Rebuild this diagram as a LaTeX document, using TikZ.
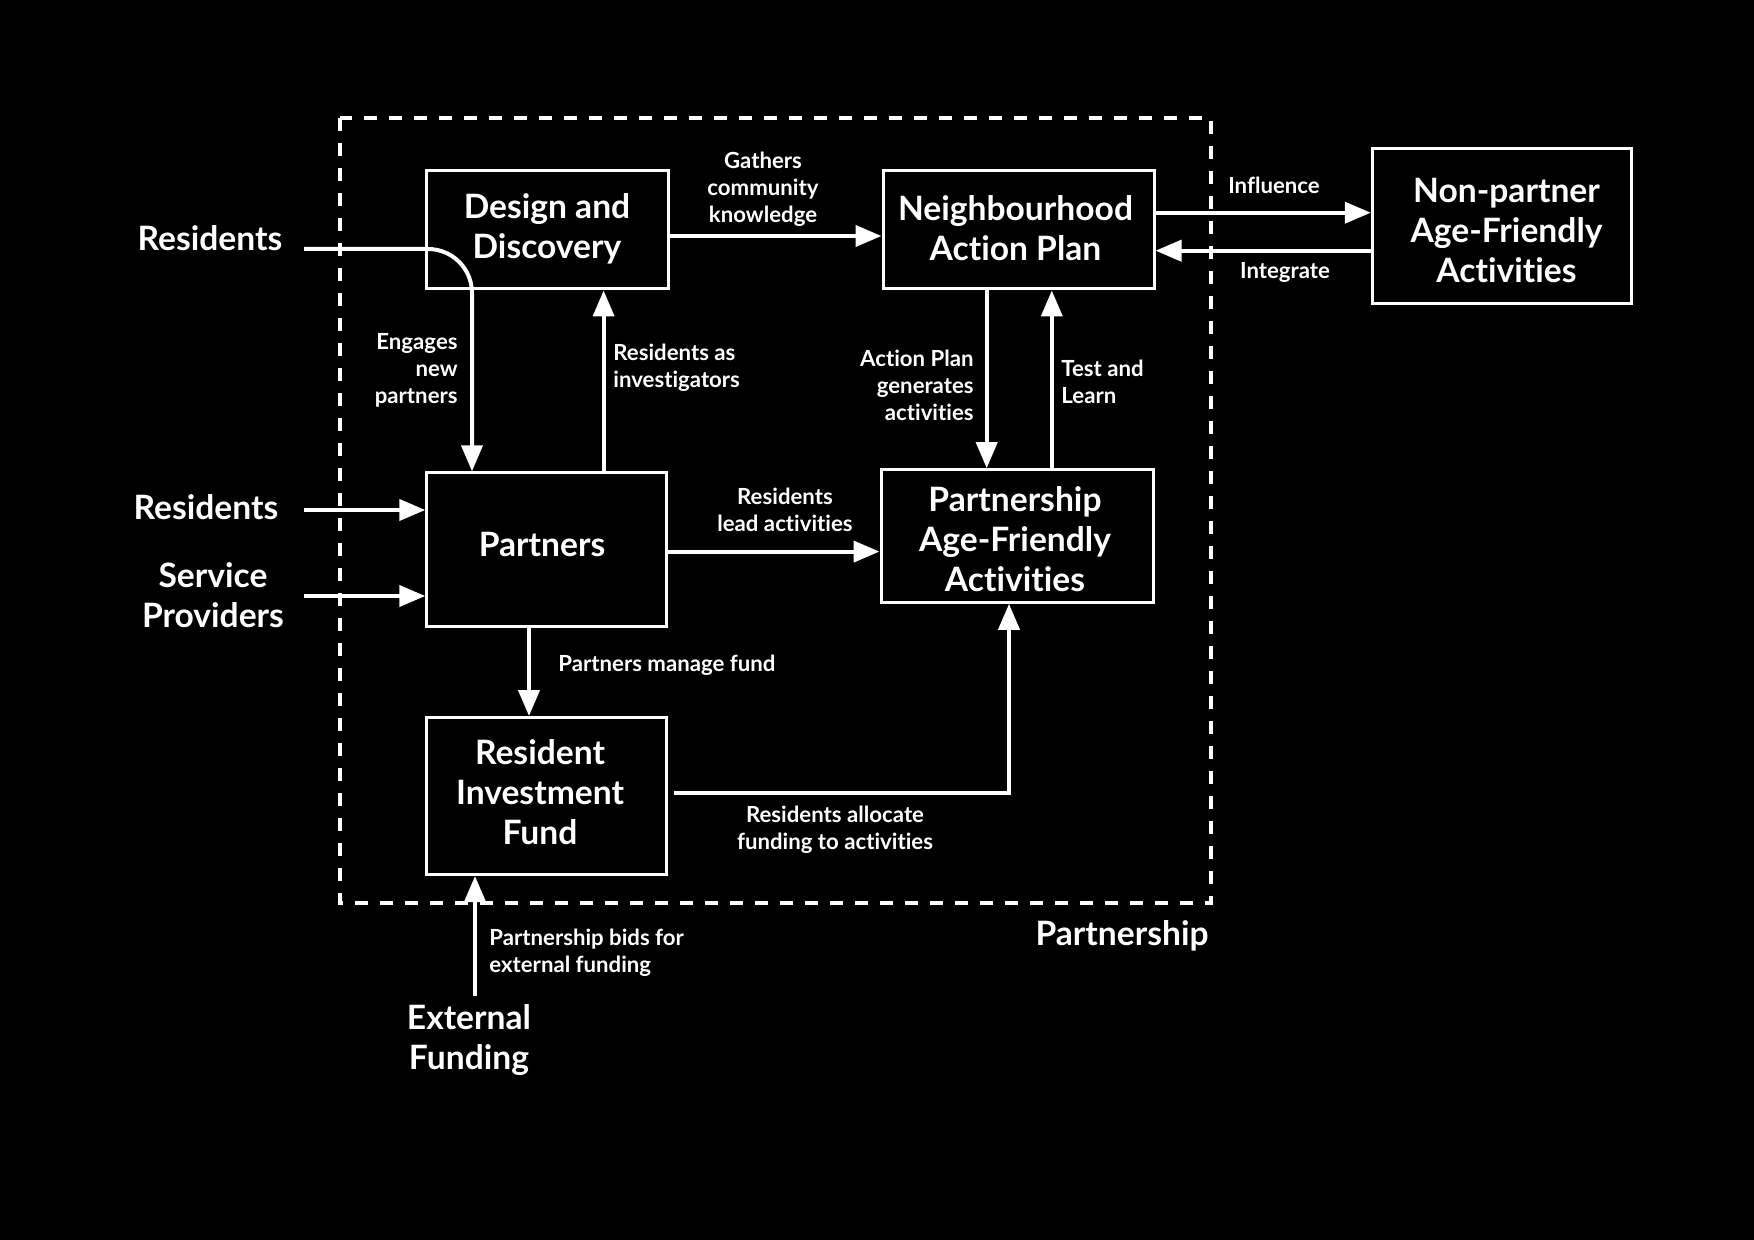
\documentclass[tikz,border=0pt]{standalone}
\usepackage{fontspec}
\setmainfont{Lato}[Ligatures=NoCommon]
\usetikzlibrary{arrows.meta}
\begin{document}
\begin{tikzpicture}[x=0.5pt,y=-0.5pt,
  box/.style={draw=white, line width=1.5pt, fill=black, inner sep=0pt},
  big/.style={text=white, align=center, font=\fontsize{16.8}{20}\selectfont\bfseries, inner sep=0pt},
  lbl/.style={text=white, font=\fontsize{11.1}{13.5}\selectfont\bfseries, inner sep=0pt},
  arr/.style={draw=white, line width=2pt, -{Triangle[length=13pt,width=10.5pt]}},
  frame/.style={draw=white, line width=1.6pt, dash pattern=on 6.5pt off 6pt},
]
\fill[black] (0,0) rectangle (1754,1240);
\useasboundingbox (0,0) rectangle (1754,1240);

% partnership frame
\draw[frame] (340,118) rectangle (1211,903);

% boxes
\node[box, minimum width=121pt, minimum height=59pt] (dd) at (547,230) {};
\node[box, minimum width=135.5pt, minimum height=59pt] (nap) at (1018.5,230) {};
\node[box, minimum width=129.7pt, minimum height=77.6pt] (np) at (1502,226) {};
\node[box, minimum width=119.6pt, minimum height=76.6pt] (pt) at (546.4,549.4) {};
\node[box, minimum width=136pt, minimum height=66.3pt] (pafa) at (1017,536) {};
\node[box, minimum width=119.6pt, minimum height=78.5pt] (rif) at (546.4,796) {};

% box texts
\node[big] (dd-t) at (547,229) {Design and\\Discovery};
\node[big] (nap-t) at (1015.5,228) {Neighbourhood\\Action Plan};
\node[big] (np-t) at (1506.5,230) {Non-partner\\Age-Friendly\\Activities};
\node[big] (pt-t) at (542,544.9) {Partners};
\node[big] (pafa-t) at (1015,539) {Partnership\\Age-Friendly\\Activities};
\node[big] (rif-t) at (540,792) {Resident\\Investment\\Fund};

% outside labels
\node[big] (res1) at (210,238.5) {Residents};
\node[big] (res2) at (206,507) {Residents};
\node[big] (sp) at (213,595) {Service\\Providers};
\node[big] (ef) at (469,1040) {External\\Funding};
\node[big, anchor=east] (pship) at (1209,936) {Partnership};

% helper coordinates
\coordinate (r1s) at (304,249);
\coordinate (r2s) at (304,510);
\coordinate (sps) at (304,596);
\coordinate (efs) at (475,996);
\coordinate (xeng) at (472,0);
\coordinate (beng) at (472,249);
\coordinate (xinv) at (603.6,0);
\coordinate (xgen) at (986.7,0);
\coordinate (xtest) at (1051.8,0);
\coordinate (xfund) at (529,0);
\coordinate (xalloc) at (1009,0);
\coordinate (ygath) at (0,236);
\coordinate (yinf) at (0,212.7);
\coordinate (yint) at (0,250.7);
\coordinate (ylead) at (0,551.6);
\coordinate (yalloc) at (0,793);

% connectors
\draw[arr, rounded corners=22pt] (r1s) -- (beng) -- (pt.north -| xeng);
\draw[arr] (r2s) -- (pt.west |- r2s);
\draw[arr] (sps) -- (pt.west |- sps);
\draw[arr] (dd.east |- ygath) -- (nap.west |- ygath);
\draw[arr] (nap.east |- yinf) -- (np.west |- yinf);
\draw[arr] (np.west |- yint) -- (nap.east |- yint);
\draw[arr] (nap.south -| xgen) -- (pafa.north -| xgen);
\draw[arr] (pafa.north -| xtest) -- (nap.south -| xtest);
\draw[arr] (pt.north -| xinv) -- (dd.south -| xinv);
\draw[arr] (pt.east |- ylead) -- (pafa.west |- ylead);
\draw[arr] (pt.south -| xfund) -- (rif.north -| xfund);
\draw[arr, shorten <=3pt] (rif.east |- yalloc) -- (yalloc -| xalloc) -- (pafa.south -| xalloc);
\draw[arr] (efs) -- (rif.south -| efs);

% connector labels
\node[lbl, align=center] (lgath) at (763,189) {Gathers\\community\\knowledge};
\node[lbl] (linf) at (1274,185) {Influence};
\node[lbl] (lint) at (1285,272) {Integrate};
\node[lbl, align=right, anchor=east] (lgen) at (974,385) {Action Plan\\generates\\activities};
\node[lbl, align=left, anchor=west] (ltest) at (1061,381.5) {Test and\\Learn};
\node[lbl, align=left, anchor=west] (linv) at (613,368) {Residents as\\investigators};
\node[lbl, align=right, anchor=east] (leng) at (458,370) {Engages\\new\\partners};
\node[lbl, align=center] (llead) at (785,510) {Residents\\lead activities};
\node[lbl, anchor=west] (lfund) at (558,665) {Partners manage fund};
\node[lbl, align=center] (lalloc) at (835,830) {Residents allocate\\funding to activities};
\node[lbl, align=left, anchor=west] (lbids) at (489,953) {Partnership bids for\\external funding};
\end{tikzpicture}
\end{document}
